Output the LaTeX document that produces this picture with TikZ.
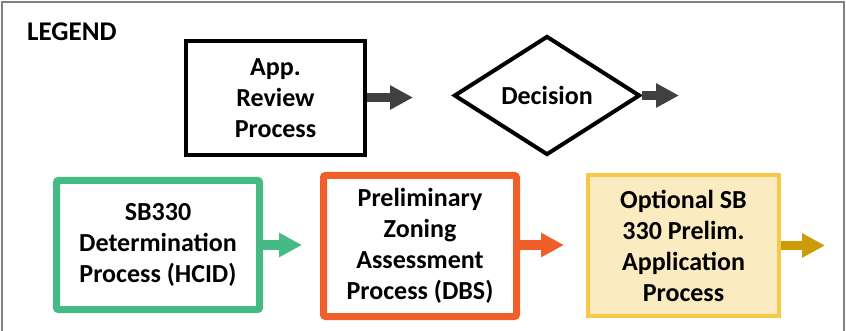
\documentclass[tikz,border=0pt]{standalone}
\usepackage{fontspec}
\setmainfont{Carlito}
\usetikzlibrary{arrows.meta,shapes.geometric}
\definecolor{frame}{HTML}{808080}
\definecolor{darkarrow}{HTML}{404040}
\definecolor{hgreen}{HTML}{45BA85}
\definecolor{horange}{HTML}{F05F2A}
\definecolor{yborder}{HTML}{F7C948}
\definecolor{yfill}{HTML}{FBEBC0}
\definecolor{gold}{HTML}{CC9C06}
\tikzset{
  x=1pt,y=-1pt,
  lbl/.style={font=\bfseries\fontsize{26}{31}\selectfont,align=center,inner sep=0pt},
  procbox/.style={lbl,rectangle,draw,line width=#1},
  flow/.style={line width=9pt,-{Triangle[length=23pt,width=23pt]},draw=#1}
}
\begin{document}
\begin{tikzpicture}
\useasboundingbox (0,0) rectangle (846,331);
\fill[white] (0,0) rectangle (846,331);
\draw[frame,line width=2pt] (2,340) -- (2,2) -- (844,2) -- (844,340);
\node[font=\bfseries\fontsize{27}{30}\selectfont,anchor=west,inner sep=0pt] (legend) at (27,32) {LEGEND};
% legend items
\node[procbox=4pt,draw=black,minimum width=179,minimum height=114] (app) at (275.5,98) {App.\\Review\\Process};
\coordinate (append) at (413,97.5);
\draw[flow=darkarrow] (app.east |- append) -- (append);
\node[lbl,diamond,draw=black,line width=4pt,aspect=1.56,minimum width=186,minimum height=119] (dec) at (547,95.5) {Decision};
\coordinate (decend) at (679,95.5);
\draw[flow=darkarrow] (dec.east) -- (decend);
% process boxes
\node[procbox=7pt,draw=hgreen,rounded corners=2pt,minimum width=203,minimum height=129] (hcid) at (158,245) {SB330\\Determination\\Process (HCID)};
\coordinate (hcidend) at (302,245);
\draw[flow=hgreen] (hcid.east) -- (hcidend);
\node[procbox=7pt,draw=horange,rounded corners=2pt,minimum width=193,minimum height=141] (dbs) at (420,246) {Preliminary\\Zoning\\Assessment\\Process (DBS)};
\coordinate (dbsend) at (564,245);
\draw[flow=horange] (dbs.east |- dbsend) -- (dbsend);
\node[procbox=4pt,draw=yborder,fill=yfill,minimum width=191,minimum height=141] (opt) at (683.5,245.5) {Optional SB\\330 Prelim.\\Application\\Process};
\coordinate (optend) at (825,245.5);
\draw[flow=gold] (opt.east) -- (optend);
\end{tikzpicture}
\end{document}
